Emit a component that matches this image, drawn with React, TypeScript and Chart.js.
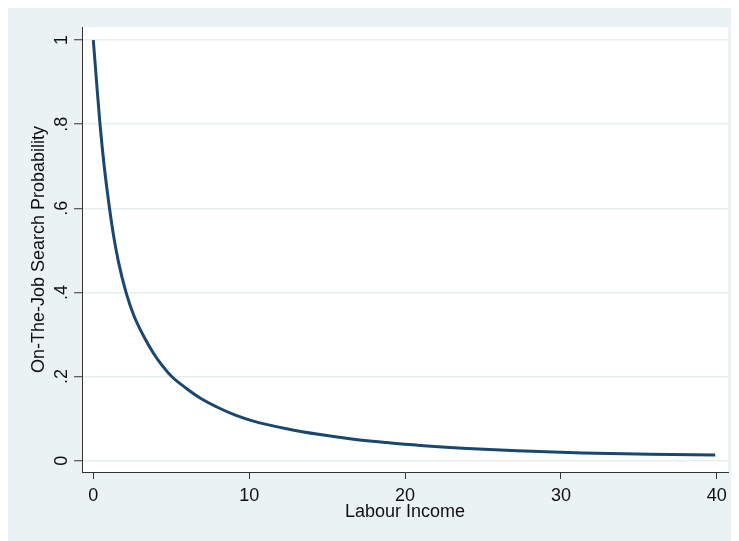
import { useEffect, useRef } from "react";
import { Chart, registerables } from "chart.js";

Chart.register(...registerables);

const incomeX = [0, 0.2, 0.43, 0.7, 1.04, 1.3, 1.6, 2.1, 2.6, 3.2, 3.85, 4.4, 5.03, 6.0, 6.85, 8.13, 9.2, 10.27, 12.4, 14.55, 16.7, 18.8, 21, 24, 27.2, 31.4, 35.7, 39.9];
const searchProb = [1.0, 0.905, 0.8, 0.7, 0.6, 0.535, 0.475, 0.4, 0.345, 0.298, 0.256, 0.227, 0.2, 0.171, 0.149, 0.124, 0.107, 0.094, 0.076, 0.062, 0.051, 0.043, 0.036, 0.029, 0.0235, 0.018, 0.0152, 0.0133];
const xTicks = [0, 10, 20, 30, 40];
const yTicks = [0, 0.2, 0.4, 0.6, 0.8, 1];
const yTickLabels = ["0", ".2", ".4", ".6", ".8", "1"];

const FONT = "'Liberation Sans', Arial, Helvetica, sans-serif";
const BG = "#eaf2f3";

const bgPlugin = {
  id: "stataBg",
  beforeDraw(chart: any) {
    const { ctx, chartArea: a, width, height } = chart;
    ctx.save();
    ctx.fillStyle = BG;
    ctx.fillRect(0, 0, width, height);
    ctx.fillStyle = "#ffffff";
    ctx.fillRect(a.left, a.top, a.right - a.left, a.bottom - a.top);
    ctx.restore();
  },
};

export default function App() {
  const ref = useRef<HTMLCanvasElement | null>(null);

  useEffect(() => {
    document.documentElement.style.overflow = "hidden";
    const canvas = ref.current;
    if (!canvas) return;
    const font = { family: FONT, size: 18 };
    const chart = new Chart(canvas, {
      type: "line",
      data: {
        datasets: [
          {
            data: incomeX.map((x, i) => ({ x, y: searchProb[i] })),
            borderColor: "#1a476f",
            borderWidth: 3,
            pointRadius: 0,
            cubicInterpolationMode: "monotone",
            fill: false,
          },
        ],
      },
      options: {
        animation: false,
        responsive: false,
        devicePixelRatio: 1,
        layout: { padding: { top: 19, right: 11, left: 0, bottom: 0 } },
        plugins: { legend: { display: false }, tooltip: { enabled: false } },
        scales: {
          x: {
            type: "linear",
            min: -0.725,
            max: 40.72,
            afterBuildTicks: (s: any) => {
              s.ticks = xTicks.map((v) => ({ value: v }));
            },
            afterFit: (s: any) => {
              s.height = 69;
            },
            grid: { drawOnChartArea: false, drawTicks: true, tickLength: 7, tickColor: "#333333", tickWidth: 1 },
            border: { display: true, color: "#333333", width: 1 },
            ticks: { color: "#111111", font, padding: 6, maxRotation: 0, autoSkip: false },
            title: { display: true, text: "Labour Income", color: "#111111", font, padding: { top: 0, bottom: 18 } },
          },
          y: {
            type: "linear",
            min: -0.027,
            max: 1.031,
            afterBuildTicks: (s: any) => {
              s.ticks = yTicks.map((v) => ({ value: v }));
            },
            afterFit: (s: any) => {
              s.width = 74;
            },
            grid: { color: "#e6eef0", lineWidth: 1.5, drawTicks: true, tickLength: 8, tickColor: "#333333", tickWidth: 1 },
            border: { display: true, color: "#333333", width: 1 },
            ticks: {
              color: "#111111",
              font,
              minRotation: 90,
              maxRotation: 90,
              crossAlign: "center",
              padding: 4,
              autoSkip: false,
              callback: (v: any) => {
                const i = yTicks.findIndex((t) => Math.abs(t - Number(v)) < 1e-9);
                return i >= 0 ? yTickLabels[i] : "";
              },
            },
            title: { display: true, text: "On-The-Job Search Probability", color: "#111111", font, padding: { top: 20, bottom: 0 } },
          },
        },
      } as any,
      plugins: [bgPlugin],
    });
    return () => chart.destroy();
  }, []);

  return (
    <div style={{ width: 731, height: 533 }}>
      <canvas ref={ref} width={731} height={533} style={{ display: "block", width: 731, height: 533 }} />
    </div>
  );
}
